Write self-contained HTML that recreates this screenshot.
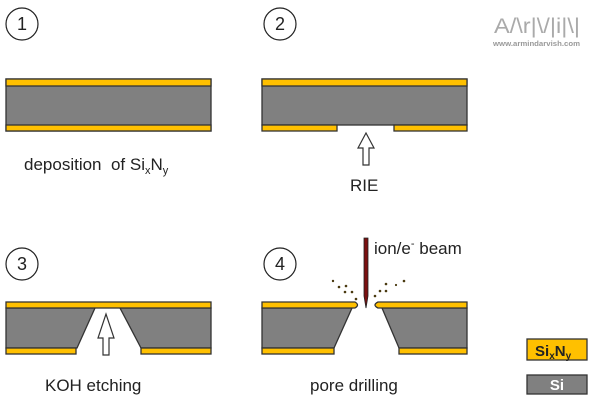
<!DOCTYPE html>
<html><head><meta charset="utf-8"><style>
body{margin:0;background:#fff}
svg{font-family:"Liberation Sans",Arial,sans-serif}
</style></head><body>
<svg width="600" height="400" viewBox="0 0 600 400">
<g stroke="#333" stroke-width="1.3">
<g>
<rect x="6" y="79" width="205" height="52" fill="#808080"/>
<rect x="6" y="79" width="205" height="7" fill="#ffc000"/>
<rect x="6" y="125" width="205" height="6" fill="#ffc000"/>
</g>
<g>
<rect x="262" y="79" width="205" height="46" fill="#808080"/>
<rect x="262" y="79" width="205" height="7" fill="#ffc000"/>
<rect x="262" y="125" width="75" height="6" fill="#ffc000"/>
<rect x="394" y="125" width="73" height="6" fill="#ffc000"/>
</g>
<g>
<polygon points="6,308 95,308 77,348 6,348" fill="#808080"/>
<polygon points="120,308 211,308 211,348 141,348" fill="#808080"/>
<rect x="6" y="302" width="205" height="6" fill="#ffc000"/>
<rect x="6" y="348" width="70" height="6" fill="#ffc000"/>
<rect x="141" y="348" width="70" height="6" fill="#ffc000"/>
</g>
<g>
<polygon points="262,308 352,308 334,348 262,348" fill="#808080"/>
<polygon points="382,308 467,308 467,348 399,348" fill="#808080"/>
<path d="M262,302 H355 Q360,305 355,308 H262 Z" fill="#ffc000"/>
<path d="M467,302 H378 Q372,305 378,308 H467 Z" fill="#ffc000"/>
<rect x="262" y="348" width="72" height="6" fill="#ffc000"/>
<rect x="399" y="348" width="68" height="6" fill="#ffc000"/>
</g>
</g>
<path d="M363,165 V148 H358 L366,133 L374,148 H369 V165 Z" fill="#fff" stroke="#333" stroke-width="1.2"/>
<path d="M103,355 V338 H98 L106,314 L114,338 H109 V355 Z" fill="#fff" stroke="#333" stroke-width="1.2"/>
<path d="M364,238 H368 V296 L366,308 L364,296 Z" fill="#7a1010" stroke="#222" stroke-width="0.8"/>
<g fill="#4a3a10">
<circle cx="333" cy="281" r="1.2"/><circle cx="339" cy="287" r="1.3"/><circle cx="346" cy="286" r="1.3"/><circle cx="345" cy="292" r="1.3"/><circle cx="352" cy="292" r="1.3"/><circle cx="356" cy="299" r="1.3"/>
<circle cx="375" cy="296" r="1.3"/><circle cx="380" cy="291" r="1.3"/><circle cx="386" cy="291" r="1.3"/><circle cx="386" cy="284" r="1.3"/><circle cx="396" cy="285" r="1.1"/><circle cx="404" cy="281" r="1.3"/>
</g>
<g fill="#fff" stroke="#222" stroke-width="1.2">
<circle cx="22" cy="24" r="16"/>
<circle cx="280" cy="24" r="16"/>
<circle cx="22" cy="264" r="16"/>
<circle cx="280" cy="264" r="16"/>
</g>
<g font-size="18" fill="#222" text-anchor="middle">
<text x="22" y="30">1</text><text x="280" y="30">2</text><text x="22" y="270">3</text><text x="280" y="270">4</text>
</g>
<g font-size="17" fill="#222">
<text x="24" y="170">deposition&#160; of Si<tspan font-size="11" dy="4">x</tspan><tspan dy="-4">N</tspan><tspan font-size="11" dy="4">y</tspan></text>
<text x="350" y="191">RIE</text>
<text x="45" y="391">KOH etching</text>
<text x="310" y="391">pore drilling</text>
<text x="374" y="254">ion/e<tspan font-size="11" dy="-7">-</tspan><tspan dy="7"> beam</tspan></text>
</g>
<g>
<text x="494" y="33" font-size="21" fill="#aaa" textLength="86" lengthAdjust="spacingAndGlyphs">A/\r|\/|i|\|</text>
<text x="493" y="46" font-size="7.5" font-weight="bold" fill="#999" textLength="87" lengthAdjust="spacingAndGlyphs">www.armindarvish.com</text>
</g>
<g>
<rect x="527" y="339" width="60" height="21" fill="#ffc000" stroke="#333" stroke-width="1.3"/>
<text x="535" y="356" font-size="15" font-weight="bold" fill="#222">Si<tspan font-size="10" dy="3">x</tspan><tspan dy="-3">N</tspan><tspan font-size="10" dy="3">y</tspan></text>
</g>
<g>
<rect x="527" y="375" width="60" height="19" fill="#808080" stroke="#333" stroke-width="1.3"/>
<text x="557" y="390" font-size="15" font-weight="bold" fill="#fff" text-anchor="middle">Si</text>
</g>
</svg>
</body></html>
